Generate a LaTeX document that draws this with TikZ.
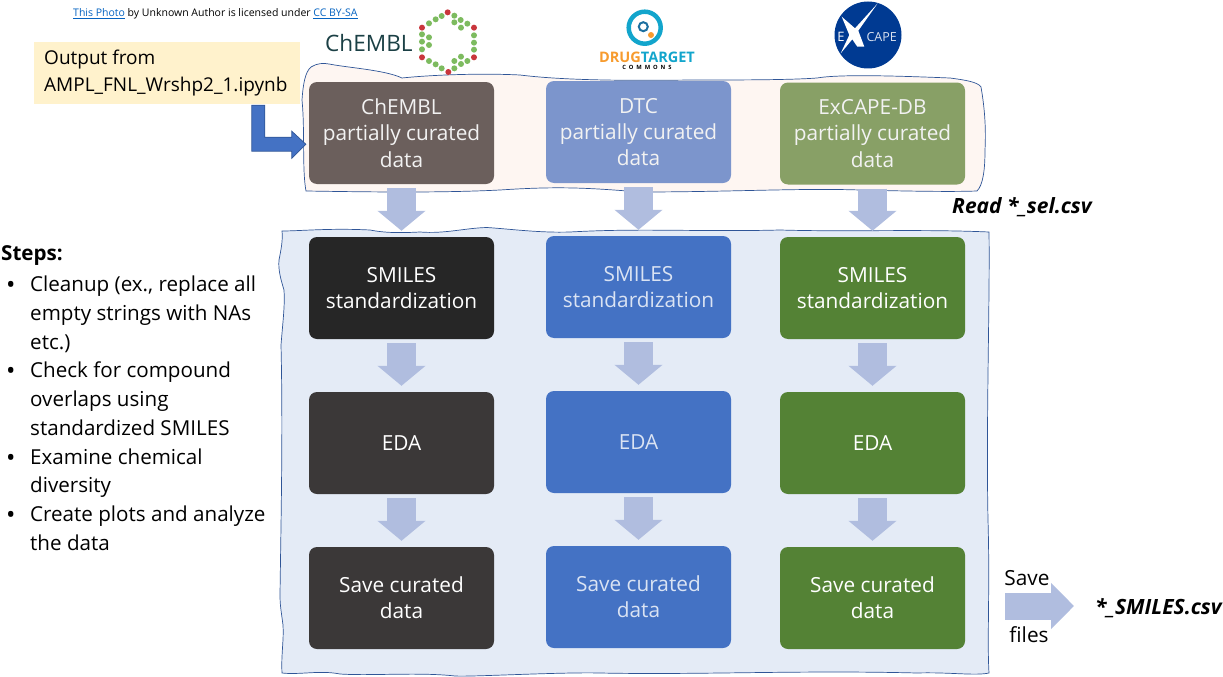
\documentclass[tikz,border=0pt]{standalone}
\usepackage{fontspec}
\setmainfont{Open Sans}
\usetikzlibrary{arrows.meta,calc}
\definecolor{cBlue}{HTML}{4472C4}
\definecolor{cBlueD}{HTML}{2F5597}
\definecolor{cGreen}{HTML}{548235}
\definecolor{cDark}{HTML}{3B3838}
\definecolor{cBlack}{HTML}{262626}
\definecolor{cBrownL}{HTML}{6B5F5C}
\definecolor{cBlueL}{HTML}{7C95CC}
\definecolor{cGreenL}{HTML}{88A066}
\definecolor{cArrow}{HTML}{B0BDDF}
\definecolor{cRed}{HTML}{C9363C}
\definecolor{cLeaf}{HTML}{7DBB5F}
\definecolor{cCyan}{HTML}{12A5CC}
\definecolor{cInner}{HTML}{1C6FA0}
\definecolor{cOrange}{HTML}{F79B2E}
\definecolor{cNote}{HTML}{FFF2CC}
\definecolor{cPeach}{HTML}{FEF6F2}
\definecolor{cPale}{HTML}{E4EBF6}
\definecolor{cLink}{HTML}{0563C1}
\definecolor{cNavy}{HTML}{003A92}
\definecolor{cTeal}{HTML}{1B4045}
\definecolor{cSoft}{HTML}{F2F2F2}
\definecolor{cSoftBlue}{HTML}{DAE3F3}
\newcommand{\bodyfont}{\fontsize{20.8}{26.2}\selectfont}
\newcommand{\stepbullet}{\makebox[24pt][l]{\fontsize{25}{28.7}\selectfont\raisebox{-2pt}{•}}}
\tikzset{
  x=1pt,y=-1pt,
  databox/.style={rounded corners=8pt,minimum width=185pt,minimum height=102pt,inner sep=0pt,
     text=white,align=center,font=\bodyfont},
  flowarrow/.style={draw=cArrow,line width=29pt,-{Triangle[length=20pt,width=47pt]},shorten <=4pt,shorten >=6pt},
  blob/.style={draw=cBlueD,line width=0.7pt},
  label/.style={inner sep=0pt,font=\bodyfont,text=black},
  filelabel/.style={inner sep=0pt,font=\fontsize{21}{24}\selectfont\bfseries\itshape,text=black}
}
\begin{document}
\begin{tikzpicture}
\useasboundingbox (0,0) rectangle (1223,677);
% background shapes
\draw[blob,fill=cPeach] (302,100) .. controls (303,85) and (305,72) .. (311,67)
  .. controls (317,63) and (324,63) .. (329,64) .. controls (350,68) and (385,70) .. (402,78)
  .. controls (430,75) and (480,73) .. (520,75) .. controls (560,80) and (620,81) .. (690,80)
  .. controls (740,80) and (790,80) .. (817,78) .. controls (840,74) and (900,76) .. (950,78)
  .. controls (965,80) and (978,82) .. (981,87) .. controls (985,110) and (986,130) .. (985,150)
  .. controls (985,170) and (983,185) .. (977,191) .. controls (950,192) and (900,191) .. (860,190)
  .. controls (800,188) and (730,192) .. (640,192) .. controls (590,188) and (560,186) .. (500,190)
  .. controls (440,193) and (370,192) .. (306,191) .. controls (302,170) and (305,130) .. (302,100) -- cycle;
\draw[blob,fill=cPale] (282,231) .. controls (300,231) and (330,228) .. (370,230)
  .. controls (385,233) and (400,233) .. (420,232) .. controls (445,234) and (465,228) .. (487,227.5)
  .. controls (510,229) and (540,233) .. (570,232) .. controls (640,228) and (700,232) .. (780,230)
  .. controls (850,232) and (920,229) .. (989,232)
  .. controls (990,300) and (986,420) .. (988,520) .. controls (990,590) and (987,640) .. (989,673)
  .. controls (975,676) and (950,672) .. (917,673) .. controls (800,670) and (700,675) .. (600,673)
  .. controls (560,672) and (470,677) .. (455,676) .. controls (420,672) and (370,676) .. (340,674)
  .. controls (320,670) and (300,675) .. (282,673)
  .. controls (281,655) and (284,640) .. (283,625) .. controls (281,610) and (280,605) .. (280,595)
  .. controls (281,520) and (283,430) .. (281,345) .. controls (283,320) and (285,305) .. (284,290)
  .. controls (281,280) and (278,270) .. (279,260) .. controls (281,250) and (283,240) .. (282,231) -- cycle;
\coordinate (saveStart) at (1005,606);
\coordinate (saveEnd) at (1074,606);
% data boxes
\node[databox,fill=cBrownL,text=cSoft] (c1) at (401.5,133) {ChEMBL\\partially curated\\data};
\node[databox,fill=cBlueL,text=cSoft] (d1) at (638.5,132) {DTC\\partially curated\\data};
\node[databox,fill=cGreenL,text=cSoft] (e1) at (872.5,133.5) {ExCAPE-DB\\partially curated\\data};
\node[databox,fill=cBlack] (c2) at (401.5,288) {SMILES\\standardization};
\node[databox,fill=cBlue,text=cSoftBlue] (d2) at (638.5,287) {SMILES\\standardization};
\node[databox,fill=cGreen] (e2) at (872.5,288) {SMILES\\standardization};
\node[databox,fill=cDark] (c3) at (401.5,443) {EDA};
\node[databox,fill=cBlue,text=cSoftBlue] (d3) at (638.5,442) {EDA};
\node[databox,fill=cGreen] (e3) at (872.5,443) {EDA};
\node[databox,fill=cDark] (c4) at (401.5,598) {Save curated\\data};
\node[databox,fill=cBlue,text=cSoftBlue] (d4) at (638.5,597) {Save curated\\data};
\node[databox,fill=cGreen] (e4) at (872.5,598) {Save curated\\data};
% flow arrows
\foreach \a/\b in {c1/c2,c2/c3,c3/c4,d1/d2,d2/d3,d3/d4,e1/e2,e2/e3,e3/e4}
  \draw[flowarrow] (\a.south) -- (\b.north);
\draw[flowarrow,line width=27pt,-{Triangle[length=23pt,width=45pt]},shorten <=0pt,shorten >=0pt] (saveStart) -- (saveEnd);
% note and bent arrow
\node[fill=cNote,minimum width=266pt,minimum height=62pt,inner sep=0pt] (note) at (167,73) {};
\node[inner sep=0pt,text=black,font=\fontsize{19}{26.5}\selectfont,anchor=west,align=left] (notetext) at (44,73) {Output from\\AMPL\_FNL\_Wrshp2\_1.ipynb};
\draw[draw=cBlueD,fill=cBlue,line width=0.7pt] ($(note.south west)+(218,1)$) -- ++(13,0) -- ++(0,32) -- ++(27,0) -- ++(0,-6)
  -- ++(14,13) -- ++(-14,14) -- ++(0,-7) -- ++(-40,0) -- cycle;
% attribution
\node[inner sep=0pt,anchor=west,font=\fontsize{10.5}{12}\selectfont] (credit) at (73,13.5)
  {\textcolor{cLink}{\underline{This Photo}} by Unknown Author is licensed under \textcolor{cLink}{\underline{CC BY-SA}}};
% steps
\node[inner sep=0pt,text=black,font=\fontsize{20.6}{28.7}\selectfont,anchor=north west,align=left] (steps) at (1,245) {\textbf{Steps:}};
\node[inner sep=0pt,text=black,anchor=north west,align=left,font=\fontsize{20.6}{28.7}\selectfont] (stepslist) at (6,276) {%
  \stepbullet Cleanup (ex., replace all\\
  \hspace*{24pt}empty strings with NAs\\
  \hspace*{24pt}etc.)\\
  \stepbullet Check for compound\\
  \hspace*{24pt}overlaps using\\
  \hspace*{24pt}standardized SMILES\\
  \stepbullet Examine chemical\\
  \hspace*{24pt}diversity\\
  \stepbullet Create plots and analyze\\
  \hspace*{24pt}the data};
% file labels
\node[filelabel,anchor=west] (readlabel) at (952,207) {Read *\_sel.csv};
\node[filelabel,anchor=west] (smileslabel) at (1095,608) {*\_SMILES.csv};
\node[label] (savelabel) at (1027,578) {Save};
\node[label] (fileslabel) at (1029,635) {files};
% ChEMBL logo
\node[inner sep=0pt,anchor=west,text=cTeal,font=\fontsize{22.6}{26}\selectfont] (chembl) at (325,43) {ChEMBL};
\foreach \x/\y in {42/55,62/43,80/33, 118/32,137/45,157/56,118/52,138/68,
   21/88,21/110,21/133,42/97,42/120, 177/91,177/113,177/134,
   42/168,62/178,80/190, 157/168,138/155,138/177,118/168,118/190}
  \fill[cLeaf] (\x/3+415,\y/3+5) circle[radius=3pt];
\foreach \x/\y in {98/22,177/68,177/157,100/201,21/157,21/68}
  \fill[cRed] (\x/3+415,\y/3+5) circle[radius=3pt];
% Drug Target Commons logo
\draw[cCyan,line width=4.5pt] (644.7,27.7) circle[radius=16pt];
\draw[cInner,line width=2pt] (643.3,26.7) circle[radius=4.5pt];
\fill[cOrange] (651,35) circle[radius=3pt];
\node[inner sep=0pt,font=\fontsize{14.5}{16}\selectfont\bfseries] (dtclogo) at (647,57) {\textcolor{cOrange}{DRUG}\textcolor{cCyan}{TARGET}};
\node[inner sep=0pt,font=\fontsize{5.8}{6}\selectfont\bfseries\addfontfeatures{LetterSpace=50}] (dtcsub) at (647,67.3) {COMMONS};
% ExCAPE logo
\fill[cNavy] (868,35) circle[radius=33.5pt];
\fill[white] (877.7,3.3) -- (858.3,30.7) -- (864.3,46.7) -- (857.3,46.7) -- (852.3,39.3) -- (840.7,53.3) -- (849.3,35) -- (841.7,16.7) -- (855,28.3) -- cycle;
\node[inner sep=0pt,text=white,font=\fontsize{13}{14}\selectfont] (exE) at (841,36.7) {E};
\node[inner sep=0pt,text=white!85!cNavy,font=\fontsize{12.5}{14}\selectfont] (exCape) at (881.7,36.7) {CAPE};
\end{tikzpicture}
\end{document}
